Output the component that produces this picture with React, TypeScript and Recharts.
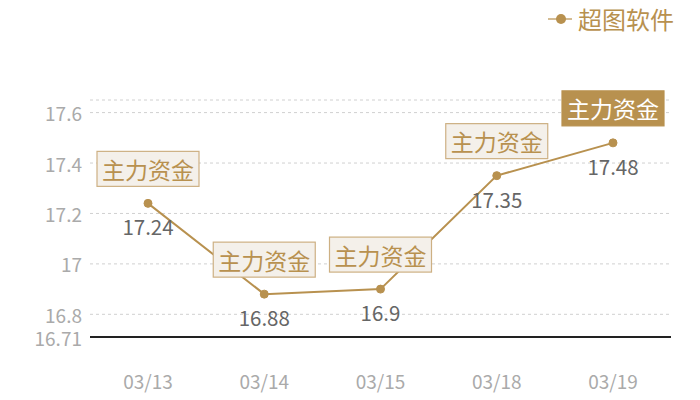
import React from 'react';
import { LineChart, Line, XAxis, YAxis, CartesianGrid, LabelList, ReferenceLine } from 'recharts';

const dates = ['03/13', '03/14', '03/15', '03/18', '03/19'];
const prices = [17.24, 16.88, 16.9, 17.35, 17.48];
const yTicks = [16.71, 16.8, 17, 17.2, 17.4, 17.6, 17.65];
const tagText = '主力资金';
const seriesName = '超图软件';

const data = dates.map((d, i) => ({ date: d, price: prices[i] }));

const GOLD = '#b8914f';
const FONT = '"Noto Sans CJK SC", "Noto Sans", sans-serif';

const XTick = (props: any) => {
  const { x, y, payload } = props;
  return (
    <text x={x} y={y + 35} textAnchor="middle" dominantBaseline="central" fontSize={19} fill="#aaaaaa" fontFamily={FONT}>
      {payload.value}
    </text>
  );
};

const YTick = (props: any) => {
  const { y, payload } = props;
  if (payload.value === 17.65) return null;
  return (
    <text x={82} y={y} textAnchor="end" dominantBaseline="central" fontSize={19} fill="#aaaaaa" fontFamily={FONT}>
      {String(payload.value)}
    </text>
  );
};

const ValueLabel = (props: any) => {
  const { x, y, value } = props;
  return (
    <text x={x} y={y + 23} textAnchor="middle" dominantBaseline="central" fontSize={20.5} fill="#666666" fontFamily={FONT}>
      {String(value)}
    </text>
  );
};

const TagLabel = (props: any) => {
  const { x, y, index } = props;
  const last = index === data.length - 1;
  const w = 102;
  const h = 35;
  return (
    <g>
      <rect x={x - w / 2} y={y - 52} width={w} height={h} fill={last ? GOLD : '#f4f0ea'} stroke={last ? GOLD : '#cdb083'} strokeWidth={1.2} />
      <text x={x} y={y - 34.5} textAnchor="middle" dominantBaseline="central" fontSize={23} fill={last ? '#ffffff' : GOLD} fontFamily={FONT}>
        {tagText}
      </text>
    </g>
  );
};

const LegendBox = () => (
  <div style={{ position: 'absolute', top: 6, left: 546, display: 'flex', alignItems: 'center', fontFamily: FONT }}>
    <svg width={28} height={24}>
      <line x1={2} y1={12} x2={26} y2={12} stroke="#d4bc94" strokeWidth={2} />
      <circle cx={15} cy={12} r={5} fill={GOLD} />
    </svg>
    <span style={{ color: GOLD, fontSize: 24, marginLeft: 4, lineHeight: '26px' }}>{seriesName}</span>
  </div>
);

export default function App() {
  return (
    <div style={{ position: 'absolute', left: 0, top: 0, width: 700, height: 400 }}>
      <LineChart width={700} height={400} data={data} margin={{ top: 100, right: 29, left: 0, bottom: 0 }}>
        <CartesianGrid vertical={false} stroke="#d0d0d0" strokeDasharray="3 3" />
        <XAxis
          dataKey="date"
          height={63}
          padding={{ left: 58, right: 58 }}
          axisLine={false}
          tickLine={false}
          tick={<XTick />}
        />
        <YAxis
          width={90}
          domain={[16.71, 17.65]}
          ticks={yTicks}
          interval={0}
          axisLine={false}
          tickLine={false}
          tick={<YTick />}
        />
        <ReferenceLine y={16.71} stroke="#222222" strokeWidth={1.3} shapeRendering="crispEdges" />
        <Line
          type="linear"
          dataKey="price"
          name={seriesName}
          stroke={GOLD}
          strokeWidth={2}
          dot={{ r: 4, fill: GOLD, stroke: GOLD, strokeWidth: 1 }}
          activeDot={false}
          isAnimationActive={false}
        >
          <LabelList dataKey="price" content={<TagLabel />} />
          <LabelList dataKey="price" content={<ValueLabel />} />
        </Line>
      </LineChart>
      <LegendBox />
    </div>
  );
}
